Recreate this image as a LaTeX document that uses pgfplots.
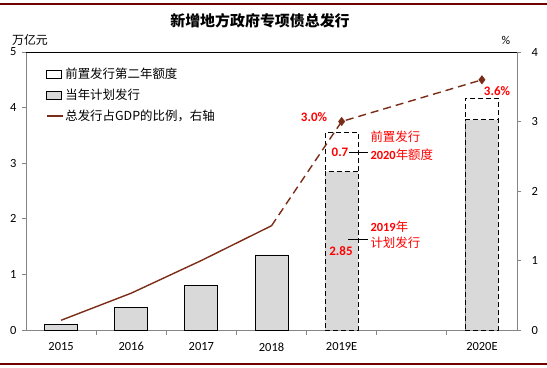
\documentclass[border=0pt]{standalone}
\usepackage{pgfplots}
\pgfplotsset{compat=1.18}
\usepackage{fontspec}
\setmainfont{Carlito}
\newfontfamily\cjk{Noto Sans CJK SC}
\definecolor{barg}{RGB}{217,217,217}
\definecolor{lnc}{RGB}{123,44,24}
\definecolor{framec}{RGB}{112,0,0}
\definecolor{axg}{RGB}{134,134,134}
\definecolor{annred}{RGB}{255,0,0}
\begin{document}
\begin{tikzpicture}
\path[use as bounding box] (0,0) rectangle (547bp,-368bp);
\draw[framec,line width=2bp] (0,-3.7bp) -- (547bp,-3.7bp);
\draw[framec,line width=2bp] (0,-364bp) -- (547bp,-364bp);

\begin{axis}[
  at={(26bp,-330bp)}, anchor=south west,
  width=491bp, height=278bp, scale only axis,
  xmin=-0.5, xmax=6.5, ymin=0, ymax=5,
  axis x line*=bottom, axis y line*=left,
  axis line style={axg, line width=0.8bp},
  tick align=outside,
  xtick={0,1,2,3,4,6},
  xticklabels={\textnormal{2015},\textnormal{2016},\textnormal{2017},\textnormal{2018},\textnormal{2019E},\textnormal{2020E}},
  major x tick style={draw=none},
  minor xtick={0.5,1.5,2.5,3.5,4.5,5.5},
  minor tick length=5bp,
  major tick length=4bp,
  minor x tick style={axg, line width=0.8bp},
  ytick={0,1,2,3,4,5},
  yticklabel={\textnormal{\pgfmathprintnumber[assume math mode=true]{\tick}}},
  y tick style={axg, line width=0.8bp},
  tick label style={font=\fontsize{12.5}{13}\selectfont},
  /pgf/number format/assume math mode=true,
  yticklabel style={xshift=-2bp},
  xticklabel style={yshift=-5bp},
  legend style={draw=none, fill=none, at={(0.04,0.95)}, anchor=north west,
    font=\cjk\fontsize{12.5}{13}\selectfont, row sep=5bp, inner sep=0pt,
    cells={anchor=west}},
  legend cell align=left,
]
\addlegendimage{legend image code/.code={\draw[black,line width=0.8bp,fill=white] (0bp,-4bp) rectangle (15bp,4bp);}}
\addlegendimage{legend image code/.code={\draw[black,line width=0.8bp,fill=barg] (0bp,-4bp) rectangle (15bp,4bp);}}
\addlegendimage{legend image code/.code={\draw[lnc,line width=1.5bp] (0bp,0bp) -- (16bp,0bp);}}
\addplot[forget plot, ybar, bar width=33bp, bar shift=0pt, fill=barg, draw=black, line width=0.8bp]
  coordinates {(0,0.1) (1,0.4) (2,0.8) (3,1.35)};
\addplot[forget plot, ybar, bar width=33bp, bar shift=0pt, fill=white, draw=black, line width=0.8bp, dash pattern=on 5bp off 3bp]
  coordinates {(4,3.55) (6,4.17)};
\addplot[forget plot, ybar, bar width=33bp, bar shift=0pt, fill=barg, draw=black, line width=0.8bp, dash pattern=on 5bp off 3bp]
  coordinates {(4,2.85) (6,3.78)};
\legend{前置发行第二年额度,当年计划发行,总发行占GDP的比例，右轴}
\end{axis}

\begin{axis}[
  at={(26bp,-330bp)}, anchor=south west,
  width=491bp, height=278bp, scale only axis,
  xmin=-0.5, xmax=6.5, ymin=0, ymax=4,
  axis x line=none, axis y line*=right,
  axis line style={axg, line width=0.8bp},
  tick align=outside, major tick length=4bp,
  ytick={0,1,2,3,4},
  yticklabel={\textnormal{\pgfmathprintnumber[assume math mode=true]{\tick}}},
  y tick style={axg, line width=0.8bp},
  tick label style={font=\fontsize{12.5}{13}\selectfont},
  /pgf/number format/assume math mode=true,
  yticklabel style={xshift=7bp},
]
\addplot[lnc, line width=1.4bp] coordinates {(0,0.14) (1,0.53) (2,1.0) (3,1.5)};
\addplot[lnc, line width=1.4bp, dash pattern=on 8bp off 5bp, mark=diamond*, mark indices={2,3},
  mark options={solid, fill=lnc}, mark size=3.5bp] coordinates {(3,1.5) (4,3.0) (6,3.6)};
\end{axis}

\draw[black, line width=0.8bp] (26bp,-52bp) -- (517bp,-52bp);

\node[font=\cjk\bfseries\fontsize{15}{15}\selectfont] at (260bp,-21bp) {新增地方政府专项债总发行};
\node[font=\cjk\itshape\fontsize{12}{12}\selectfont] at (30bp,-40bp) {万亿元};
\node[font=\fontsize{12}{12}\selectfont] at (506bp,-40bp) {\%};

\begin{scope}[annred, font=\bfseries\fontsize{13}{13}\selectfont]
\node at (314bp,-117bp) {3.0\%};
\node at (497bp,-91bp) {3.6\%};
\node at (340bp,-152bp) {0.7};
\node at (341bp,-251bp) {2.85};
\node[anchor=west, font=\cjk\fontsize{12.5}{13}\selectfont] at (367bp,-137bp) {前置发行};
\node[anchor=west, font=\fontsize{12.5}{13}\selectfont] at (367bp,-155bp) {\textbf{2020}{\cjk 年额度}};
\node[anchor=west, font=\fontsize{12.5}{13}\selectfont] at (367bp,-227bp) {\textbf{2019}{\cjk 年}};
\node[anchor=west, font=\cjk\fontsize{12.5}{13}\selectfont] at (367bp,-243bp) {计划发行};
\end{scope}
\draw[black, line width=0.7bp] (349bp,-152bp) -- (368bp,-152bp);
\draw[black, line width=0.7bp] (348bp,-239.5bp) -- (368bp,-239.5bp);
\end{tikzpicture}
\end{document}
